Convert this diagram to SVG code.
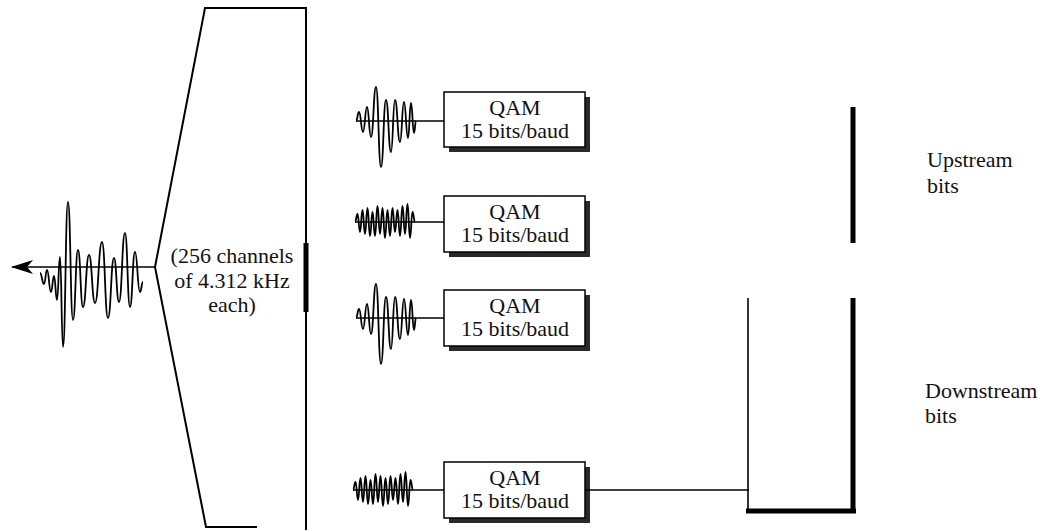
<svg xmlns="http://www.w3.org/2000/svg" xmlns:xlink="http://www.w3.org/1999/xlink" width="1054" height="532" viewBox="0 0 1054 532">
<style>
.ln{stroke:#000;fill:none;stroke-width:2;stroke-linecap:square}
.thin{stroke:#000;fill:none;stroke-width:1.6}
.thick{stroke:#000;fill:none;stroke-width:5}
.wave{stroke:#000;fill:none;stroke-width:1.8;stroke-linejoin:round}
.box{fill:#fff;stroke:#000;stroke-width:1.5}
.shadow{fill:#2a2a2a}
.t{font-family:"Liberation Serif","Times New Roman","DejaVu Serif",serif;font-size:22px;fill:#111}
.c{text-anchor:middle}
</style>
<defs>
<marker id="arrL" markerWidth="24" markerHeight="16" refX="21" refY="7" orient="auto" markerUnits="userSpaceOnUse">
<polygon points="22,7 0,0 6,7 0,14" fill="#000"/>
</marker>
<path id="wA" class="wave" d="M0,0 C1.5,0 1.5,-9 3,-9 C5,-9 5,11 7,11 C9,11 9,-14 11,-14 C13,-14 13,16 15,16 C17.5,16 17.5,-34 20,-34 C22.5,-34 22.5,46 25,46 C27.5,46 27.5,-21 30,-21 C32.5,-21 32.5,31 35,31 C37,31 37,-21 39,-21 C41.5,-21 41.5,21 44,21 C46,21 46,-19 48,-19 C50,-19 50,17 52,17 C53.5,17 53.5,-18 55,-18 C56.5,-18 56.5,12 58,12 C59,12 59,0 60,0"/>
<path id="wB" class="wave" stroke-width="1.5" d="M0,0 C1.25,0 1.25,-8 2.5,-8 C3.75,-8 3.75,10 5,10 C6.25,10 6.25,-12 7.5,-12 C8.75,-12 8.75,12 10,12 C11.25,12 11.25,-14 12.5,-14 C13.750,-14 13.75,14 15,14 C16.25,14 16.25,-10 17.5,-10 C18.75,-10 18.75,14 20,14 C21.25,14 21.25,-16 22.5,-16 C23.75,-16 23.75,12 25,12 C26.25,12 26.25,-14 27.5,-14 C28.75,-14 28.75,16 30,16 C31.25,16 31.25,-12 32.5,-12 C33.75,-12 33.75,14 35,14 C36.25,14 36.25,-14 37.5,-14 C38.75,-14 38.75,10 40,10 C41.25,10 41.25,-12 42.5,-12 C43.75,-12 43.75,14 45,14 C46.25,14 46.25,-16 47.5,-16 C48.75,-16 48.75,12 50,12 C51.25,12 51.25,-18 52.5,-18 C53.75,-18 53.75,16 55,16 C56.25,16 56.25,-10 57.5,-10 C58.75,-10 58.75,0 60,0"/>
</defs>
<rect width="1054" height="532" fill="#fff"/>

<g id="line-signal">
<path class="wave" stroke-width="2.6" d="M40,273 C42,273 42,284 44,284 C45.5,284 45.5,270 47,270 C49,270 49,292 51,292 C52.5,292 52.5,276 54,276 C55.5,276 55.5,300 57,300 C58.5,300 58.5,257 60,257 C61.5,257 61.5,347 63,347 C65.5,347 65.5,202 68,202 C70.5,202 70.5,320 73,320 C75.5,320 75.5,250 78,250 C80.5,250 80.5,307 83,307 C86,307 86,255 89,255 C92,255 92,303 95,303 C98.5,303 98.5,242 102,242 C105,242 105,318 108,318 C111,318 111,258 114,258 C116.5,258 116.5,302 119,302 C122,302 122,233 125,233 C127.5,233 127.5,307 130,307 C132.5,307 132.5,252 135,252 C137.5,252 137.5,292 140,292 C141.5,292 141.5,282 143,282"/>
</g>

<g id="demux">
<polyline class="ln" stroke-width="2.5" points="306,8 205,8 155,267 206,527 256,527"/>
<line class="ln" x1="306" y1="8" x2="306" y2="529"/>
<line class="thick" x1="306" y1="243" x2="306" y2="312"/>
<text class="t c" x="232" y="263">(256 channels</text>
<text class="t c" x="232" y="288">of 4.312 kHz</text>
<text class="t c" x="232" y="312">each)</text>
</g>

<g id="qam1">
<use xlink:href="#wA" x="356" y="121"/>
<rect class="shadow" x="449" y="97" width="141" height="55"/>
<rect class="box" x="444" y="92" width="141" height="55"/>
<text class="t c" x="515" y="115">QAM</text>
<text class="t c" x="515" y="138">15 bits/baud</text>
</g>
<g id="qam2">
<use xlink:href="#wB" x="355" y="222"/>
<rect class="shadow" x="449" y="201" width="141" height="56"/>
<rect class="box" x="444" y="196" width="141" height="56"/>
<text class="t c" x="515" y="219">QAM</text>
<text class="t c" x="515" y="242">15 bits/baud</text>
</g>
<g id="qam3">
<use xlink:href="#wA" x="356" y="318"/>
<rect class="shadow" x="449" y="295" width="141" height="56"/>
<rect class="box" x="444" y="290" width="141" height="56"/>
<text class="t c" x="515" y="313">QAM</text>
<text class="t c" x="515" y="336">15 bits/baud</text>
</g>
<g id="qam4">
<use xlink:href="#wB" x="353" y="490"/>
<rect class="shadow" x="449" y="467" width="141" height="56"/>
<rect class="box" x="444" y="462" width="141" height="56"/>
<text class="t c" x="515" y="485">QAM</text>
<text class="t c" x="515" y="508">15 bits/baud</text>
</g>

<g id="upstream">
<line class="thick" x1="853" y1="107" x2="853" y2="243"/>
<text class="t" x="927" y="167">Upstream</text>
<text class="t" x="927" y="193">bits</text>
</g>
<g id="downstream">
<line class="thick" x1="853" y1="298" x2="853" y2="513"/>
<text class="t" x="925" y="398">Downstream</text>
<text class="t" x="925" y="423">bits</text>
</g>

<g id="connectors">
<line class="thin" x1="155" y1="267" x2="12" y2="267" marker-end="url(#arrL)"/>
<line class="thin" x1="356" y1="121" x2="444" y2="121"/>
<line class="thin" x1="355" y1="222" x2="444" y2="222"/>
<line class="thin" x1="356" y1="318" x2="444" y2="318"/>
<line class="thin" x1="353" y1="490" x2="444" y2="490"/>
<line class="thin" x1="585" y1="490" x2="749" y2="490"/>
<line class="thin" x1="748" y1="298" x2="748" y2="513"/>
<line class="thick" x1="746" y1="511" x2="856" y2="511"/>
</g>
</svg>
